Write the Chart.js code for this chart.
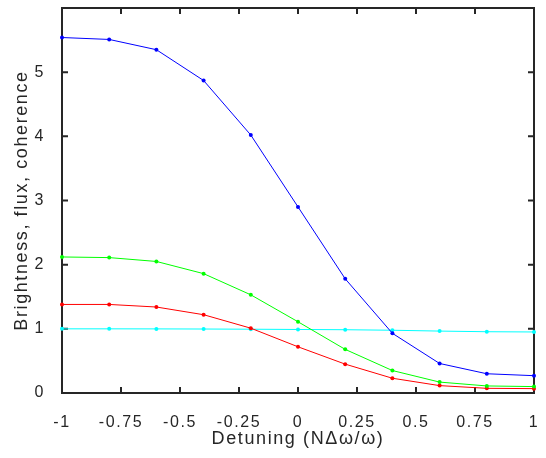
<!DOCTYPE html>
<html>
<head>
<meta charset="utf-8">
<script src="https://cdn.jsdelivr.net/npm/chart.js@4.4.1/dist/chart.umd.min.js"></script>
<style>
  html, body { margin: 0; padding: 0; background: #fff; }
  #wrap { width: 546px; height: 458px; }
</style>
</head>
<body>
<div id="wrap"><canvas id="chart"></canvas></div>
<script>
// detuning values (x) and the four curves
const detuning = [-1, -0.8, -0.6, -0.4, -0.2, 0, 0.2, 0.4, 0.6, 0.8, 1];
const blueSeries  = [5.54, 5.51, 5.35, 4.87, 4.02, 2.90, 1.78, 0.93, 0.46, 0.30, 0.27];
const greenSeries = [2.12, 2.11, 2.05, 1.86, 1.53, 1.11, 0.68, 0.35, 0.17, 0.11, 0.10];
const redSeries   = [1.38, 1.38, 1.34, 1.22, 1.01, 0.72, 0.45, 0.23, 0.115, 0.073, 0.068];
const cyanSeries  = [1.0, 1.0, 0.999, 0.997, 0.994, 0.99, 0.986, 0.978, 0.965, 0.955, 0.951];
const xTicks = [-1, -0.75, -0.5, -0.25, 0, 0.25, 0.5, 0.75, 1];
const yTicks = [0, 1, 2, 3, 4, 5];

const axisColor = '#262626';
const font = 'Liberation Sans, Arial, Helvetica, sans-serif';

function pts(ys) {
  return detuning.map((x, i) => ({ x: x, y: ys[i] }));
}

function line(ys, color) {
  return {
    data: pts(ys),
    borderColor: color,
    backgroundColor: color,
    borderWidth: 1,
    pointRadius: 2,
    pointHoverRadius: 2,
    pointBorderWidth: 0,
    tension: 0,
    clip: false
  };
}

// box round the plot with inward ticks on all four sides
const boxPlugin = {
  id: 'box',
  beforeDraw(chart) {
    chart.ctx.letterSpacing = '1.6px';
  },
  beforeDatasetsDraw(chart) {
    const { ctx, chartArea: a, scales } = chart;
    const tl = 6;
    ctx.save();
    ctx.strokeStyle = axisColor;
    ctx.lineWidth = 2;
    ctx.strokeRect(a.left, a.top, a.right - a.left, a.bottom - a.top);
    ctx.beginPath();
    xTicks.forEach(v => {
      const px = scales.x.getPixelForValue(v);
      ctx.moveTo(px, a.bottom); ctx.lineTo(px, a.bottom - tl);
      ctx.moveTo(px, a.top); ctx.lineTo(px, a.top + tl);
    });
    yTicks.forEach(v => {
      const py = scales.y.getPixelForValue(v);
      ctx.moveTo(a.left, py); ctx.lineTo(a.left + tl, py);
      ctx.moveTo(a.right, py); ctx.lineTo(a.right - tl, py);
    });
    ctx.stroke();
    ctx.restore();
  }
};

new Chart(document.getElementById('chart'), {
  type: 'line',
  data: {
    datasets: [
      line(blueSeries, '#0000ff'),
      line(greenSeries, '#00ff00'),
      line(redSeries, '#ff0000'),
      line(cyanSeries, '#00ffff')
    ]
  },
  options: {
    responsive: true,
    maintainAspectRatio: false,
    animation: false,
    layout: { padding: { top: 8, right: 12, left: 0, bottom: 0 } },
    plugins: { legend: { display: false }, tooltip: { enabled: false } },
    scales: {
      x: {
        type: 'linear',
        min: -1,
        max: 1,
        afterFit(s) { s.height = 65; s.paddingLeft = 0; s.paddingRight = 0; },
        afterBuildTicks(s) { s.ticks = xTicks.map(v => ({ value: v })); },
        grid: { display: false },
        border: { display: false },
        ticks: {
          padding: 12,
          color: axisColor,
          font: { family: font, size: 16 },
          maxRotation: 0,
          autoSkip: false,
          callback: v => String(v)
        },
        title: {
          display: true,
          text: 'Detuning (NΔω/ω)',
          color: axisColor,
          font: { family: font, size: 18 },
          padding: { top: 0, bottom: 8 }
        }
      },
      y: {
        min: 0,
        max: 6,
        afterFit(s) { s.width = 62; s.paddingTop = 0; s.paddingBottom = 0; },
        afterBuildTicks(s) { s.ticks = yTicks.map(v => ({ value: v })); },
        grid: { display: false },
        border: { display: false },
        ticks: {
          padding: 9,
          color: axisColor,
          font: { family: font, size: 16 },
          autoSkip: false,
          callback: v => String(v)
        },
        title: {
          display: true,
          text: 'Brightness, flux, coherence',
          color: axisColor,
          font: { family: font, size: 18 },
          padding: { top: 11, bottom: 0 }
        }
      }
    }
  },
  plugins: [boxPlugin]
});
</script>
</body>
</html>
